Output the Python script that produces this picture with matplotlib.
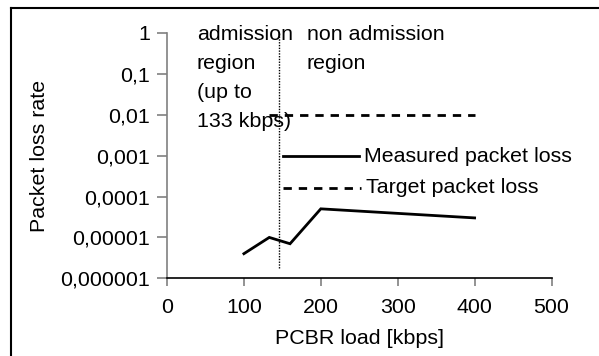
import matplotlib.pyplot as plt
from matplotlib.lines import Line2D

plt.rcParams["font.family"] = ["Liberation Sans", "DejaVu Sans"]

# Measured loss per offered PCBR load
load_kbps = [100, 133, 160, 200, 400]
measured_loss = [4e-6, 1e-5, 7e-6, 5e-5, 3e-5]

# Target loss level over the tested range
target_load = [133, 400]
target_loss = [0.01, 0.01]

# Admission boundary marker
boundary_x = 145
boundary_y = [1.8e-6, 1.0]

y_ticks = [1e-6, 1e-5, 1e-4, 1e-3, 1e-2, 1e-1, 1]
y_labels = ["0,000001", "0,00001", "0,0001", "0,001", "0,01", "0,1", "1"]
x_ticks = [0, 100, 200, 300, 400, 500]

fs = 15.4

fig = plt.figure(figsize=(5.99, 3.56), dpi=100)
ax = fig.add_axes([167 / 599, 1 - 278.3 / 356, (551.5 - 167) / 599, (278.3 - 33) / 356])

ax.plot(load_kbps, measured_loss, color="black", lw=2, solid_joinstyle="miter",
        clip_on=False)
ax.plot(target_load, target_loss, color="black", lw=2, linestyle=(0, (3, 2.5)),
        clip_on=False)
ax.plot([boundary_x, boundary_x], boundary_y, color="black", lw=1,
        linestyle=(0, (1, 1)), clip_on=False)

ax.set_yscale("log")
ax.set_xlim(0, 500)
ax.set_ylim(1e-6, 1)
ax.set_yticks(y_ticks)
ax.set_yticklabels(y_labels)
ax.minorticks_off()
ax.set_xticks(x_ticks)

for side in ("top", "right"):
    ax.spines[side].set_visible(False)
ax.spines["left"].set_color("#808080")
ax.spines["left"].set_linewidth(1.2)
ax.spines["bottom"].set_color("black")
ax.spines["bottom"].set_linewidth(1.2)
ax.tick_params(axis="y", direction="out", length=7, width=1.2, color="#808080",
               labelsize=fs, pad=5)
ax.tick_params(axis="x", direction="out", length=6, width=1.2, color="#808080",
               labelsize=fs, pad=8)

ax.set_xlabel("PCBR load [kbps]", fontsize=fs, labelpad=9)
ax.set_ylabel("Packet loss rate", fontsize=fs, labelpad=8)

# region annotations
fig.text(197 / 599, 1 - 25 / 356, "admission\nregion\n(up to\n133 kbps)",
         fontsize=fs, va="top", ha="left", linespacing=1.66)
fig.text(307 / 599, 1 - 25 / 356, "non admission\nregion", fontsize=fs,
         va="top", ha="left", linespacing=1.66)

# legend drawn as plain lines next to the curves
fig.add_artist(Line2D([283 / 599, 359 / 599], [1 - 156 / 356] * 2, color="black",
                      lw=2))
fig.add_artist(Line2D([283 / 599, 361 / 599], [1 - 187.5 / 356] * 2, color="black",
                      lw=2, linestyle=(0, (3, 2.5))))
fig.text(364 / 599, 1 - 156 / 356, "Measured packet loss", fontsize=fs,
         va="center", ha="left")
fig.text(366 / 599, 1 - 187.5 / 356, "Target packet loss", fontsize=fs,
         va="center", ha="left")

# outer frame edges
fig.add_artist(Line2D([10.5 / 599, 10.5 / 599], [0, 1 - 8 / 356], color="black", lw=1.5))
fig.add_artist(Line2D([10.5 / 599, 1], [1 - 8 / 356] * 2, color="black", lw=1.5))

fig.savefig("out.png", dpi=100)
